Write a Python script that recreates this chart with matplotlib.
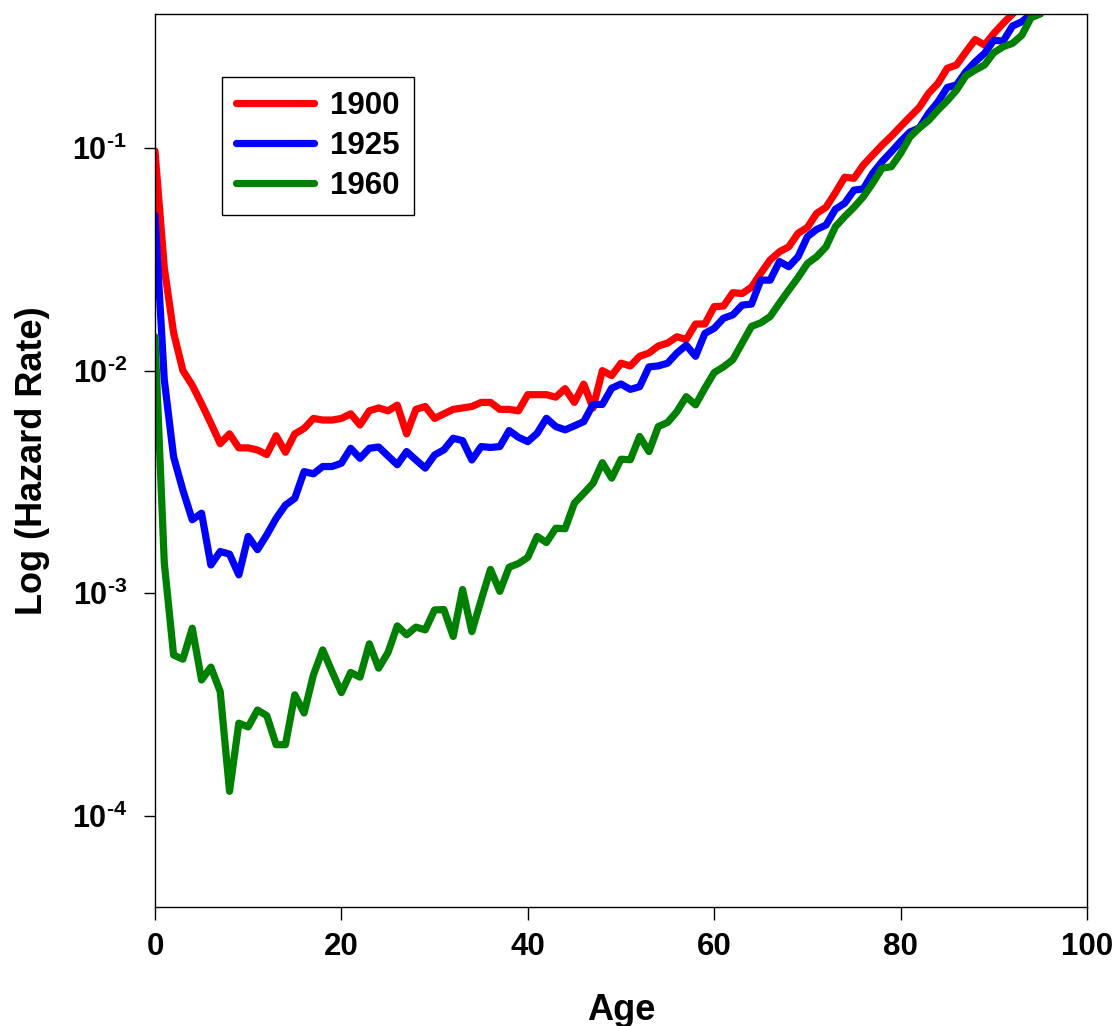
import numpy as np
import matplotlib
matplotlib.use("Agg")
import matplotlib.pyplot as plt
from matplotlib.ticker import FixedLocator, NullLocator

plt.rcParams['font.family'] = ['Liberation Sans', 'DejaVu Sans']
plt.rcParams['font.weight'] = 'bold'
plt.rcParams['mathtext.fontset'] = 'custom'
plt.rcParams['mathtext.rm'] = 'Liberation Sans:bold'
plt.rcParams['mathtext.bf'] = 'Liberation Sans:bold'

# hazard rates, one value per year of age
hz_1900 = [0.097, 0.029, 0.0148, 0.0100, 0.0086, 0.0071, 0.0058, 0.0047, 0.0052, 0.0045,
           0.0045, 0.0044, 0.0042, 0.0051, 0.0043, 0.0052, 0.0055, 0.0061, 0.0060, 0.0060,
           0.0061, 0.0064, 0.0057, 0.0066, 0.0068, 0.0066, 0.0070, 0.0052, 0.0067, 0.0069,
           0.0061, 0.0064, 0.0067, 0.0068, 0.0069, 0.0072, 0.0072, 0.0067, 0.0067, 0.0066,
           0.0078, 0.0078, 0.0078, 0.0076, 0.0083, 0.0072, 0.0087, 0.0068, 0.0100, 0.0095,
           0.0108, 0.0105, 0.0116, 0.0120, 0.0129, 0.0133, 0.0142, 0.0138, 0.0162, 0.0162,
           0.0194, 0.0195, 0.0224, 0.0222, 0.0237, 0.0274, 0.0314, 0.0342, 0.0360, 0.0414,
           0.0440, 0.0509, 0.0542, 0.0630, 0.0739, 0.0731, 0.0839, 0.093, 0.103, 0.113,
           0.125, 0.138, 0.152, 0.176, 0.195, 0.228, 0.236, 0.270, 0.307, 0.290,
           0.327, 0.363, 0.40, 0.44]

hz_1925 = [0.050, 0.0091, 0.0041, 0.0029, 0.00214, 0.00229, 0.00134, 0.00154, 0.00150, 0.00121,
           0.00180, 0.00157, 0.00183, 0.00217, 0.00249, 0.00267, 0.00352, 0.00344, 0.00371, 0.00371,
           0.00384, 0.00448, 0.00404, 0.00448, 0.00454, 0.00414, 0.00378, 0.00433, 0.00397, 0.00365,
           0.00418, 0.00441, 0.00497, 0.00485, 0.00397, 0.00456, 0.00452, 0.00456, 0.00538, 0.00502,
           0.00480, 0.00523, 0.00611, 0.00561, 0.00542, 0.00565, 0.00590, 0.00705, 0.00705, 0.00834,
           0.00871, 0.00824, 0.00847, 0.0104, 0.0105, 0.0108, 0.0120, 0.0130, 0.0116, 0.0147,
           0.0155, 0.0172, 0.0178, 0.0197, 0.0199, 0.0255, 0.0255, 0.0309, 0.0293, 0.0325,
           0.0400, 0.0431, 0.0451, 0.0531, 0.0565, 0.0647, 0.0655, 0.0769, 0.0868, 0.0962,
           0.107, 0.118, 0.123, 0.143, 0.161, 0.187, 0.192, 0.220, 0.244, 0.266,
           0.305, 0.302, 0.353, 0.369, 0.40]

hz_1960 = [0.0142, 0.00137, 0.000528, 0.000506, 0.000697, 0.000408, 0.000466, 0.000362, 0.000129, 0.000261,
           0.000251, 0.000299, 0.000282, 0.000209, 0.000209, 0.000350, 0.000290, 0.000430, 0.000557, 0.000445,
           0.000358, 0.000441, 0.000420, 0.000593, 0.000461, 0.000542, 0.000714, 0.000651, 0.000705, 0.000685,
           0.000842, 0.000845, 0.000640, 0.00104, 0.000673, 0.000933, 0.00128, 0.00102, 0.00131, 0.00136,
           0.00145, 0.00180, 0.00169, 0.00196, 0.00195, 0.00254, 0.00281, 0.00312, 0.00386, 0.00329,
           0.00400, 0.00398, 0.00506, 0.00433, 0.00561, 0.00585, 0.00655, 0.00764, 0.00702, 0.00834,
           0.00980, 0.0104, 0.0112, 0.0133, 0.0158, 0.0164, 0.0175, 0.0201, 0.0230, 0.0262,
           0.0303, 0.0325, 0.0360, 0.0443, 0.0492, 0.0542, 0.0604, 0.0695, 0.0811, 0.0824,
           0.0946, 0.112, 0.123, 0.133, 0.148, 0.163, 0.182, 0.211, 0.224, 0.236,
           0.268, 0.285, 0.295, 0.321, 0.385, 0.40]

series = [('1900', hz_1900, '#ff0000'),
          ('1925', hz_1925, '#0000ff'),
          ('1960', hz_1960, '#008000')]

x_ticks = [0, 20, 40, 60, 80, 100]
y_ticks = [1e-4, 1e-3, 1e-2, 1e-1]
y_labels = [r'$\mathbf{10^{\text{-}4}}$', r'$\mathbf{10^{\text{-}3}}$',
            r'$\mathbf{10^{\text{-}2}}$', r'$\mathbf{10^{\text{-}1}}$']

fig = plt.figure(figsize=(11.18, 10.26), dpi=100)
ax = fig.add_axes([0.1386, 0.116, 0.8337, 0.8704])

for name, vals, col in series:
    ages = np.arange(len(vals))
    ax.plot(ages, vals, color=col, lw=5.2, label=name,
            solid_capstyle='round', solid_joinstyle='round')

ax.set_yscale('log')
ax.set_xlim(0, 100)
ax.set_ylim(3.9e-5, 0.40)

ax.xaxis.set_major_locator(FixedLocator(x_ticks))
ax.set_xticklabels([str(t) for t in x_ticks])
ax.yaxis.set_major_locator(FixedLocator(y_ticks))
ax.yaxis.set_minor_locator(NullLocator())
ax.set_yticklabels(y_labels)

ax.tick_params(axis='x', direction='out', length=9, width=1, pad=9, labelsize=22.5)
ax.tick_params(axis='y', direction='out', length=8, width=1, pad=12, labelsize=22)
for lab in ax.get_xticklabels():
    lab.set_fontweight('bold')

for sp in ax.spines.values():
    sp.set_linewidth(1)
    sp.set_color('black')

ax.set_xlabel('Age', fontsize=26, fontweight='bold', labelpad=22)
ax.set_ylabel('Log (Hazard Rate)', fontsize=26, fontweight='bold', labelpad=16)

leg = ax.legend(loc='upper left', bbox_to_anchor=(0.072, 0.9295), borderaxespad=0,
                fontsize=22.5, frameon=True, fancybox=False, framealpha=1,
                edgecolor='black', handlelength=2.5, handletextpad=0.5,
                borderpad=0.45, labelspacing=0.32)
leg.get_frame().set_linewidth(1)
for t in leg.get_texts():
    t.set_fontweight('bold')
for h in leg.get_lines():
    h.set_solid_capstyle('round')

fig.savefig('out.png', dpi=100)
